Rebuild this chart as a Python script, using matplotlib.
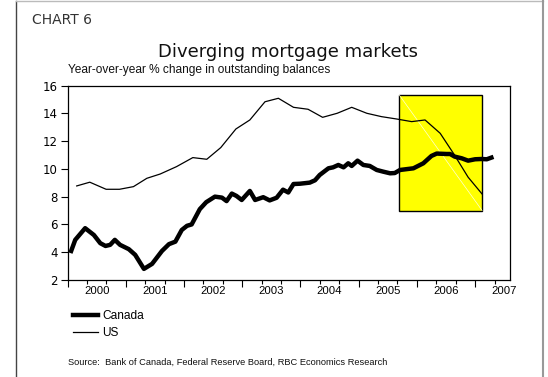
import matplotlib
matplotlib.use("Agg")
import matplotlib.pyplot as plt
from matplotlib import font_manager
from matplotlib.lines import Line2D
from matplotlib.patches import Rectangle
from matplotlib.ticker import MultipleLocator, NullFormatter

# Year-over-year % change in outstanding mortgage balances
canada_t = [2000.06, 2000.13, 2000.30, 2000.45, 2000.56, 2000.65, 2000.73, 2000.81,
            2000.90, 2001.05, 2001.16, 2001.31, 2001.45, 2001.62, 2001.74, 2001.85,
            2001.96, 2002.05, 2002.13, 2002.27, 2002.38, 2002.53, 2002.65, 2002.73,
            2002.82, 2002.90, 2002.99, 2003.13, 2003.22, 2003.36, 2003.47, 2003.59,
            2003.70, 2003.79, 2003.88, 2003.99, 2004.16, 2004.25, 2004.33, 2004.48,
            2004.56, 2004.65, 2004.74, 2004.82, 2004.88, 2004.98, 2005.08, 2005.19,
            2005.31, 2005.42, 2005.54, 2005.62, 2005.71, 2005.94, 2006.11, 2006.25,
            2006.34, 2006.51, 2006.57, 2006.65, 2006.77, 2006.88, 2007.00, 2007.11,
            2007.20, 2007.28]
canada_v = [4.09, 4.89, 5.73, 5.24, 4.65, 4.45, 4.53, 4.89,
            4.53, 4.22, 3.81, 2.80, 3.16, 4.09, 4.58, 4.76,
            5.60, 5.90, 6.00, 7.10, 7.60, 8.00, 7.93, 7.68,
            8.22, 8.05, 7.76, 8.41, 7.76, 7.96, 7.73, 7.92,
            8.50, 8.30, 8.91, 8.93, 9.01, 9.18, 9.56, 10.04,
            10.11, 10.28, 10.11, 10.40, 10.21, 10.59, 10.28, 10.21,
            9.92, 9.80, 9.68, 9.70, 9.92, 10.04, 10.40, 10.93,
            11.10, 11.07, 11.07, 10.88, 10.76, 10.59, 10.69, 10.71,
            10.69, 10.81]

us_t = [2000.155, 2000.38, 2000.66, 2000.89, 2001.13, 2001.36, 2001.59, 2001.87,
        2002.15, 2002.39, 2002.63, 2002.89, 2003.13, 2003.39, 2003.62, 2003.88,
        2004.13, 2004.38, 2004.63, 2004.88, 2005.14, 2005.39, 2005.65, 2005.91,
        2006.14, 2006.40, 2006.63, 2006.88, 2007.12]
us_v = [8.77, 9.04, 8.53, 8.53, 8.72, 9.32, 9.63, 10.16,
        10.81, 10.69, 11.53, 12.87, 13.52, 14.83, 15.08, 14.43,
        14.29, 13.71, 14.00, 14.43, 14.00, 13.76, 13.59, 13.40,
        13.52, 12.56, 11.10, 9.40, 8.19]

years = [2000, 2001, 2002, 2003, 2004, 2005, 2006, 2007]

# highlighted divergence window (x from, x to, y from, y to)
box_x = (2005.70, 2007.12)
box_y = (7.0, 15.3)

installed = {f.name for f in font_manager.fontManager.ttflist}
narrow = "Liberation Sans" if "Liberation Sans" in installed else "DejaVu Sans"

fig = plt.figure(figsize=(5.48, 3.77), dpi=100)
ax = fig.add_axes([0.1235, 0.2573, 0.8072, 0.5159])

ax.add_patch(Rectangle((box_x[0], box_y[0]), box_x[1] - box_x[0], box_y[1] - box_y[0],
                       facecolor="#ffff00", edgecolor="black", linewidth=1.0, zorder=1))
ax.plot(box_x, box_y[::-1], color="#ffffd8", linewidth=0.5, zorder=1.5)

us_line, = ax.plot(us_t, us_v, color="black", linewidth=0.9, zorder=2)
ca_line, = ax.plot(canada_t, canada_v, color="black", linewidth=3.2, zorder=3,
                   solid_joinstyle="round")

ax.set_xlim(2000, 2007.6)
ax.set_ylim(2, 16)
ax.yaxis.set_major_locator(MultipleLocator(2))
ax.set_xticks(years)
ax.xaxis.set_minor_locator(MultipleLocator(1 / 3))
ax.xaxis.set_major_formatter(NullFormatter())
ax.tick_params(axis="x", which="major", length=5, width=0.8, direction="out")
ax.tick_params(axis="x", which="minor", length=3, width=0.8, direction="out")
ax.tick_params(axis="y", length=5, width=0.8, direction="out", pad=2, labelsize=8.5)
for s in ax.spines.values():
    s.set_linewidth(0.9)

# year labels sit in the middle of each year
for yr in years:
    ax.text(yr + 0.5, -0.03, str(yr), transform=ax.get_xaxis_transform(),
            ha="center", va="top", fontsize=8.2, family=narrow)

fig.text(0.058, 0.947, "CHART 6", fontsize=10, color="#333333", va="center")
fig.text(0.525, 0.862, "Diverging mortgage markets", fontsize=13, color="#111111",
         ha="center", va="center")
fig.text(0.1235, 0.813, "Year-over-year % change in outstanding balances",
         fontsize=8.6, family=narrow, va="center", color="#111111")

fig.legend([ca_line, us_line], ["Canada", "US"], loc="upper left",
           bbox_to_anchor=(0.133, 0.178), frameon=False, prop={"family": narrow, "size": 8.6},
           handlelength=2.1, handletextpad=0.35, labelspacing=0.45, borderpad=0,
           borderaxespad=0)

fig.text(0.1235, 0.04, "Source:  Bank of Canada, Federal Reserve Board, RBC Economics Research",
         fontsize=6.7, family=narrow, va="center", color="#111111")

# page frame
fig.add_artist(Line2D([0.0292, 0.0292], [0, 0.998], color="#444444", linewidth=1.0))
fig.add_artist(Line2D([0.0292, 0.991], [0.998, 0.998], color="#bbbbbb", linewidth=1.0))
fig.add_artist(Line2D([0.991, 0.991], [0, 0.998], color="#999999", linewidth=1.5))

fig.savefig("out.png", dpi=100)
